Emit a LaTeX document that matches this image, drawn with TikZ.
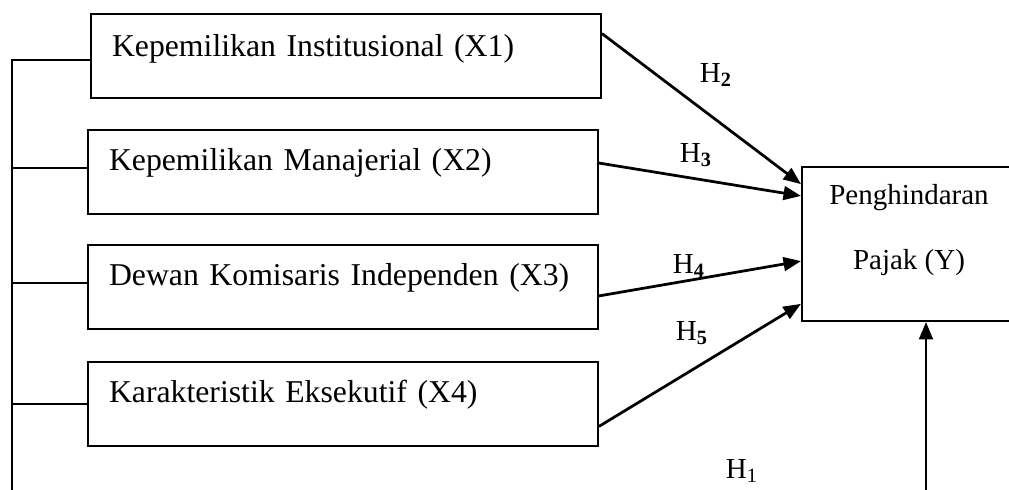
\documentclass[tikz,border=0pt]{standalone}
\usepackage{fontspec}
\setmainfont{Liberation Serif}
\usetikzlibrary{arrows.meta}

\begin{document}
\begin{tikzpicture}[x=0.4pt,y=-0.4pt]
          \clip (0,0) rectangle (1009,490);
          \tikzstyle{every node} = [draw, line width=0.8pt, anchor=north west, inner xsep=8.4pt, inner ysep=0pt, text width=187.2pt, align=left, text height=16.4pt, text depth=17.2pt, font=\fontsize{12.7}{15}\selectfont];
          \node[text height=17.2pt, text depth=16.4pt](x1) at (90,13) {Kepemilikan Institusional (X1)};
          \node(x2) at (87,129) {Kepemilikan Manajerial (X2)};
          \node(x3) at (87,244) {Dewan Komisaris Independen (X3)};
          \node(x4) at (87,361) {Karakteristik Eksekutif (X4)};
          \tikzstyle{every node} = [draw, line width=0.8pt, anchor=north west, inner sep=0pt, minimum width=85.6pt, align=center, text height=41.2pt, text depth=20.4pt, font=\fontsize{11.6}{26}\selectfont];
          \node(y) at (801,166) {Penghindaran\\Pajak (Y)};
          \tikzstyle{every node} = [font=\fontsize{11.6}{14}\selectfont]
          % garis kiri
          \coordinate (kiri) at (12,490);
          \draw[line width=0.8pt] (kiri) |- (x1.181.6);
          \draw[line width=0.8pt] (x2.179.2 -| kiri) -- (x2.179.2);
          \draw[line width=0.8pt] (x3.179.1 -| kiri) -- (x3.179.1);
          \draw[line width=0.8pt] (x4.180 -| kiri) -- (x4.180);
          % panah ke Y
          \path[line width=1.1pt,-{Triangle[length=7pt,width=5.5pt]}]
          (x1.5) edge (y.151.5);
          \path[line width=1.1pt,-{Triangle[length=7pt,width=5.5pt]}]
          (x2.2.4) edge (y.156.3);
          \path[line width=1.1pt,-{Triangle[length=7pt,width=5.5pt]}]
          (x3.-2.7) edge (y.189);
          \path[line width=1.1pt,-{Triangle[length=7pt,width=5.5pt]}]
          (x4.-5.7) edge (y.209.3);
          \coordinate (bawah) at (926,490);
          \path[line width=1.1pt,-{Triangle[length=7pt,width=5.5pt]}]
          (bawah) edge (bawah |- y.south);
          \node(h2) at (716,75) {H\textsubscript{\textbf{2}}};
          \node(h3) at (696,155) {H\textsubscript{\textbf{3}}};
          \node(h4) at (689,266) {H\textsubscript{\textbf{4}}};
          \node(h5) at (692,333) {H\textsubscript{\textbf{5}}};
          \node(h1) at (742,471) {H\textsubscript{1}};
\end{tikzpicture}
\end{document}
